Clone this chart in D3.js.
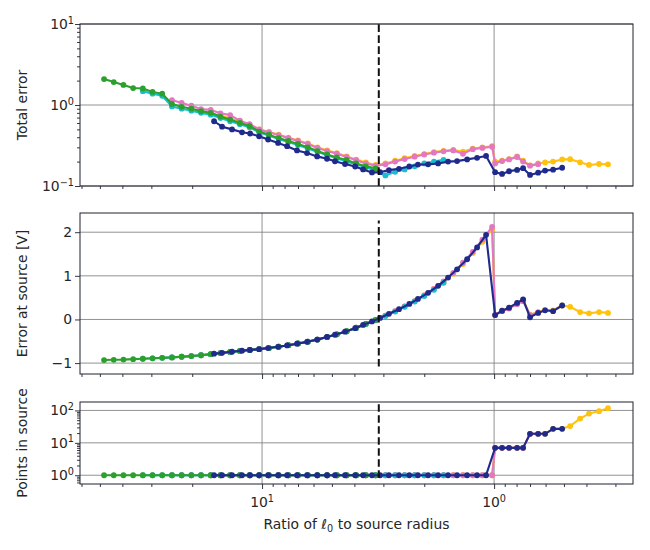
<!DOCTYPE html>
<html>
<head>
<meta charset="utf-8">
<script src="https://cdn.jsdelivr.net/npm/d3@7"></script>
<style>
  body { margin: 0; background: #fff; }
  text { font-family: "DejaVu Sans", sans-serif; fill: #262626; }
</style>
</head>
<body>
<script>
// ratio of l0 to source radius, shared grid (before and after ratio = 1)
var ratioGrid = [47.97, 43.57, 39.57, 35.94, 32.64, 29.65, 26.93, 24.45, 22.21, 20.17,
  18.32, 16.64, 15.11, 13.73, 12.46, 11.32, 10.28, 9.34, 8.48, 7.70,
  7.00, 6.35, 5.77, 5.24, 4.76, 4.32, 3.93, 3.57, 3.24, 2.94,
  2.67, 2.43, 2.20, 2.00, 1.817, 1.651, 1.499, 1.362, 1.236, 1.123, 1.020,
  0.990, 0.924, 0.862, 0.796, 0.750, 0.700, 0.646, 0.603, 0.557, 0.509,
  0.470, 0.426, 0.390, 0.353, 0.323];
var navyRatio = [16.10, 14.87, 13.47, 12.20, 11.26, 10.30, 9.42, 8.53, 7.80, 7.07,
  6.40, 5.79, 5.25, 4.85, 4.39, 3.97, 3.67, 3.36, 3.10, 2.84,
  2.57, 2.32, 2.13, 1.925, 1.743, 1.579, 1.444, 1.307, 1.184, 1.083,
  0.990, 0.924, 0.862, 0.796, 0.750, 0.700, 0.646, 0.603, 0.557, 0.509];

// where each run starts on the grid
var yellowStart = 11, pinkStart = 7, cyanStart = 4, greenStart = 0;

// total error
var yellowTotal = [0.78, 0.74, 0.68, 0.63, 0.57, 0.50, 0.465, 0.43, 0.395, 0.365,
  0.335, 0.30, 0.275, 0.255, 0.232, 0.212, 0.195, 0.182, 0.19, 0.205,
  0.22, 0.235, 0.248, 0.262, 0.272, 0.28, 0.265, 0.29, 0.30, 0.31,
  0.20, 0.205, 0.215, 0.232, 0.205, 0.18, 0.19, 0.195, 0.20, 0.213,
  0.214, 0.196, 0.182, 0.187, 0.185];
var pinkTotal = [1.15, 1.06, 0.98, 0.89, 0.87, 0.79, 0.75, 0.64, 0.58, 0.50,
  0.46, 0.425, 0.39, 0.36, 0.33, 0.295, 0.27, 0.25, 0.228, 0.208,
  0.19, 0.178, 0.185, 0.20, 0.215, 0.23, 0.245, 0.258, 0.268, 0.275,
  0.25, 0.285, 0.295, 0.305,
  0.19, 0.203, 0.213, 0.228, 0.20, 0.178, 0.186];
var cyanTotal = [1.48, 1.38, 1.30, 0.96, 0.90, 0.85, 0.80, 0.76, 0.69, 0.63,
  0.58, 0.53, 0.46, 0.42, 0.38, 0.35, 0.32, 0.29, 0.265, 0.24,
  0.22, 0.20, 0.185, 0.17, 0.155, 0.135, 0.15, 0.16, 0.175, 0.19,
  0.20, 0.21];
var greenTotal = [2.09, 1.92, 1.77, 1.62, 1.60, 1.45, 1.38, 1.03, 0.95, 0.90,
  0.84, 0.80, 0.72, 0.66, 0.60, 0.55, 0.47, 0.43, 0.39, 0.36,
  0.33, 0.30, 0.27, 0.245, 0.225, 0.21, 0.19, 0.175, 0.165];
var navyTotal = [0.63, 0.54, 0.50, 0.46, 0.445, 0.41, 0.375, 0.34, 0.31, 0.275,
  0.255, 0.232, 0.217, 0.202, 0.187, 0.174, 0.160, 0.147, 0.148, 0.157,
  0.163, 0.174, 0.184, 0.185, 0.19, 0.20, 0.203, 0.213, 0.223, 0.235,
  0.148, 0.141, 0.152, 0.158, 0.166, 0.137, 0.146, 0.155, 0.159, 0.168];

// error at source [V]
var yellowSource = [-0.795, -0.77, -0.745, -0.72, -0.70, -0.68, -0.655, -0.625, -0.59, -0.55,
  -0.51, -0.46, -0.40, -0.34, -0.27, -0.19, -0.10, -0.01, 0.09, 0.19,
  0.30, 0.42, 0.55, 0.70, 0.86, 1.05, 1.27, 1.52, 1.78, 2.07,
  0.10, 0.20, 0.26, 0.37, 0.45, 0.11, 0.17, 0.22, 0.21, 0.32,
  0.29, 0.17, 0.14, 0.17, 0.15];
var pinkSource = [-0.87, -0.855, -0.84, -0.82, -0.795, -0.77, -0.745, -0.72, -0.70, -0.68,
  -0.655, -0.625, -0.59, -0.55, -0.51, -0.46, -0.40, -0.34, -0.27, -0.19,
  -0.10, -0.01, 0.09, 0.19, 0.30, 0.42, 0.55, 0.70, 0.87, 1.07,
  1.30, 1.55, 1.83, 2.12,
  0.10, 0.19, 0.25, 0.35, 0.42, 0.10, 0.16];
var cyanSource = [-0.90, -0.89, -0.88, -0.87, -0.855, -0.84, -0.82, -0.795, -0.77, -0.745,
  -0.72, -0.70, -0.68, -0.655, -0.625, -0.59, -0.55, -0.51, -0.46, -0.40,
  -0.34, -0.27, -0.195, -0.105, -0.02, 0.08, 0.18, 0.29, 0.41, 0.54,
  0.68, 0.84];
var greenSource = [-0.93, -0.925, -0.92, -0.91, -0.90, -0.89, -0.88, -0.87, -0.855, -0.84,
  -0.82, -0.795, -0.77, -0.745, -0.72, -0.70, -0.68, -0.655, -0.625, -0.59,
  -0.55, -0.51, -0.46, -0.40, -0.34, -0.27, -0.19, -0.10, -0.01];
var navySource = [-0.785, -0.765, -0.74, -0.715, -0.70, -0.68, -0.655, -0.627, -0.595, -0.555,
  -0.513, -0.462, -0.40, -0.35, -0.28, -0.20, -0.125, -0.045, 0.035, 0.13,
  0.235, 0.355, 0.47, 0.61, 0.77, 0.96, 1.15, 1.38, 1.65, 1.94,
  0.10, 0.20, 0.27, 0.38, 0.46, 0.05, 0.15, 0.21, 0.19, 0.32];

// points in source
var yellowPoints = [1, 1, 1, 1, 1, 1, 1, 1, 1, 1, 1, 1, 1, 1, 1, 1, 1, 1, 1, 1,
  1, 1, 1, 1, 1, 1, 1, 1, 1, 1,
  7, 7, 7, 7, 7, 19, 19, 19, 27, 27, 33, 56, 80, 95, 117];
var pinkPoints = [1, 1, 1, 1, 1, 1, 1, 1, 1, 1, 1, 1, 1, 1, 1, 1, 1, 1, 1, 1,
  1, 1, 1, 1, 1, 1, 1, 1, 1, 1, 1, 1, 1, 1,
  7, 7, 7, 7, 7, 19, 19];
var cyanPoints = [1, 1, 1, 1, 1, 1, 1, 1, 1, 1, 1, 1, 1, 1, 1, 1, 1, 1, 1, 1,
  1, 1, 1, 1, 1, 1, 1, 1, 1, 1, 1, 1];
var greenPoints = [1, 1, 1, 1, 1, 1, 1, 1, 1, 1, 1, 1, 1, 1, 1, 1, 1, 1, 1, 1,
  1, 1, 1, 1, 1, 1, 1, 1, 1];
var navyPoints = [1, 1, 1, 1, 1, 1, 1, 1, 1, 1, 1, 1, 1, 1, 1, 1, 1, 1, 1, 1,
  1, 1, 1, 1, 1, 1, 1, 1, 1, 1,
  7, 7, 7, 7, 7, 19, 19, 19, 27, 27];

// dashed marker
var dashRatio = 3.14;

var xDomain = [60.9, 0.252];
var totalDomain = [0.1, 10];
var sourceDomain = [-1.25, 2.44];
var pointsDomain = [0.537, 182];

var w = 650, h = 550;
var left = 80, right = 633;
var ink = "#1f2230";

function runOf(start, arr) { return ratioGrid.slice(start, start + arr.length); }

var series = [
  {color: "#ffc20e", x: runOf(yellowStart, yellowTotal), total: yellowTotal, source: yellowSource, points: yellowPoints},
  {color: "#e377c2", x: runOf(pinkStart, pinkTotal), total: pinkTotal, source: pinkSource, points: pinkPoints},
  {color: "#17becf", x: runOf(cyanStart, cyanTotal), total: cyanTotal, source: cyanSource, points: cyanPoints},
  {color: "#2ca02c", x: runOf(greenStart, greenTotal), total: greenTotal, source: greenSource, points: greenPoints},
  {color: "#1f2a8c", x: navyRatio, total: navyTotal, source: navySource, points: navyPoints}
];

var xScale = d3.scaleLog().domain(xDomain).range([left, right]);

var panels = [
  {key: "total", label: "Total error", y: d3.scaleLog().domain(totalDomain).range([186, 24]),
   log: true, majors: [0.1, 1, 10], exps: ["\u22121", "0", "1"], dash: [0.1, 10]},
  {key: "source", label: "Error at source [V]", y: d3.scaleLinear().domain(sourceDomain).range([374, 213]),
   log: false, majors: [-1, 0, 1, 2], dash: [-1.08, 2.27]},
  {key: "points", label: "Points in source", y: d3.scaleLog().domain(pointsDomain).range([484, 402]),
   log: true, majors: [1, 10, 100], exps: ["0", "1", "2"], dash: [0.83, 155]}
];

var xMajors = [10, 1];
var xMinors = [];
[0.1, 1, 10].forEach(function(dec) {
  for (var k = 2; k <= 9; k++) {
    var v = dec * k;
    if (v < xDomain[0] && v > xDomain[1]) xMinors.push(v);
  }
});

var svg = d3.select("body").append("svg")
  .attr("width", w).attr("height", h);

function supLabel(g, x, y, exp, anchor) {
  var t = g.append("text").attr("x", x).attr("y", y)
    .attr("text-anchor", anchor).style("font-size", "13.9px");
  t.append("tspan").text("10");
  t.append("tspan").attr("dy", -5.5).style("font-size", "9.7px").text(exp);
}

panels.forEach(function(p, pi) {
  var y = p.y;
  var y0 = y.range()[0], y1 = y.range()[1];
  var g = svg.append("g");

  // grid
  xMajors.forEach(function(v) {
    g.append("line").attr("x1", xScale(v)).attr("x2", xScale(v))
      .attr("y1", y0).attr("y2", y1)
      .attr("stroke", "#868686").attr("stroke-width", 0.9);
  });
  p.majors.forEach(function(v) {
    g.append("line").attr("x1", left).attr("x2", right)
      .attr("y1", y(v)).attr("y2", y(v))
      .attr("stroke", "#868686").attr("stroke-width", 0.9);
  });

  // data
  var line = d3.line()
    .x(function(d) { return xScale(d[0]); })
    .y(function(d) { return y(d[1]); });

  series.forEach(function(s) {
    var pts = s.x.map(function(xv, i) { return [xv, s[p.key][i]]; });
    g.append("path").datum(pts)
      .attr("d", line)
      .attr("fill", "none")
      .attr("stroke", s.color)
      .attr("stroke-width", 2.1)
      .attr("stroke-linejoin", "round");
    g.selectAll(null).data(pts).enter().append("circle")
      .attr("cx", function(d) { return xScale(d[0]); })
      .attr("cy", function(d) { return y(d[1]); })
      .attr("r", 2.9)
      .attr("fill", s.color);
  });

  // dashed marker line
  g.append("line")
    .attr("x1", xScale(dashRatio)).attr("x2", xScale(dashRatio))
    .attr("y1", y(p.dash[0])).attr("y2", y(p.dash[1]))
    .attr("stroke", "#111").attr("stroke-width", 2)
    .attr("stroke-dasharray", "7.7,3.3");

  // x ticks
  var xAxisMajor = d3.axisBottom(xScale).tickValues(xMajors).tickSize(5).tickFormat("");
  var xAxisMinor = d3.axisBottom(xScale).tickValues(xMinors).tickSize(3).tickFormat("");
  [xAxisMajor, xAxisMinor].forEach(function(ax) {
    var a = g.append("g").attr("transform", "translate(0," + y0 + ")").call(ax);
    a.select(".domain").remove();
    a.selectAll("line").attr("stroke", ink).attr("stroke-width", 0.9);
  });

  // y ticks
  var yAxisMajor = d3.axisLeft(y).tickValues(p.majors).tickSize(5).tickFormat("");
  var ay = g.append("g").attr("transform", "translate(" + left + ",0)").call(yAxisMajor);
  ay.select(".domain").remove();
  ay.selectAll("line").attr("stroke", ink).attr("stroke-width", 0.9);
  if (p.log) {
    var yMin = [];
    var dom = y.domain();
    [0.1, 1, 10, 100].forEach(function(dec) {
      for (var k = 2; k <= 9; k++) {
        var v = dec * k;
        if (v > dom[0] && v < dom[1]) yMin.push(v);
      }
    });
    var am = g.append("g").attr("transform", "translate(" + left + ",0)")
      .call(d3.axisLeft(y).tickValues(yMin).tickSize(3).tickFormat(""));
    am.select(".domain").remove();
    am.selectAll("line").attr("stroke", ink).attr("stroke-width", 0.9);
    p.majors.forEach(function(v, i) {
      supLabel(g, 74, y(v) + 5, p.exps[i], "end");
    });
  } else {
    p.majors.forEach(function(v) {
      g.append("text").attr("x", 72).attr("y", y(v) + 5)
        .attr("text-anchor", "end").style("font-size", "13.9px")
        .text(d3.format("d")(v).replace("-", "\u2212"));
    });
  }

  // frame
  g.append("rect").attr("x", left).attr("y", y1)
    .attr("width", right - left).attr("height", y0 - y1)
    .attr("fill", "none").attr("stroke", ink).attr("stroke-width", 1);

  // y label
  g.append("text")
    .attr("transform", "translate(27," + ((y0 + y1) / 2) + ") rotate(-90)")
    .attr("text-anchor", "middle").style("font-size", "13.9px")
    .text(p.label);

  // x tick labels on the bottom panel only
  if (pi === panels.length - 1) {
    supLabel(g, xScale(10), 507, "1", "middle");
    supLabel(g, xScale(1), 507, "0", "middle");
    var xl = g.append("text").attr("x", (left + right) / 2).attr("y", 529)
      .attr("text-anchor", "middle").style("font-size", "13.9px");
    xl.append("tspan").text("Ratio of ");
    xl.append("tspan").style("font-style", "italic").text("\u2113");
    xl.append("tspan").attr("dy", 3).style("font-size", "9.7px").text("0");
    xl.append("tspan").attr("dy", -3).text(" to source radius");
  }
});
</script>
</body>
</html>
